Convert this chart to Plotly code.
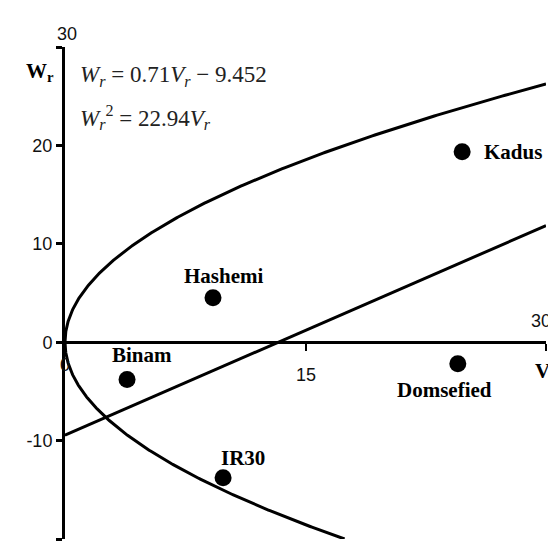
import numpy as np
import plotly.graph_objects as go

# ---- data ----
cultivars = ["Binam", "Hashemi", "IR30", "Domsefied", "Kadus"]
vr_values = [3.87, 9.23, 9.86, 24.5, 24.77]
wr_values = [-3.8, 4.52, -13.77, -2.18, 19.36]

# label anchor positions (data coords)
label_v = [4.80, 9.92, 11.1, 23.64, 27.95]
label_w = [-1.27, 6.76, -11.73, -4.83, 19.36]

# regression coefficients shown on the chart
line_slope = 0.71
line_intercept = -9.452
parabola_coef = 22.94

x_tick_vals = [0, 15, 30]
x_tick_text = ["0", "15", "30"]
y_tick_vals = [-20, -10, 0, 10, 20, 30]
y_tick_text = ["-20", "-10", "0", "10", "20", ""]

X_RANGE = [0, 30]
Y_RANGE = [-20, 30]

# ---- curves from equations ----
v_line = np.linspace(X_RANGE[0], X_RANGE[1], 50)
w_line = line_slope * v_line + line_intercept

w_up = np.linspace(0, np.sqrt(parabola_coef * X_RANGE[1]), 300)
v_up = w_up ** 2 / parabola_coef
w_dn = np.linspace(0, Y_RANGE[0], 300)
v_dn = w_dn ** 2 / parabola_coef

fig = go.Figure()
lw = 3
fig.add_trace(go.Scatter(x=v_up, y=w_up, mode="lines", line=dict(color="black", width=lw), hoverinfo="skip"))
fig.add_trace(go.Scatter(x=v_dn, y=w_dn, mode="lines", line=dict(color="black", width=lw), hoverinfo="skip"))
fig.add_trace(go.Scatter(x=v_line, y=w_line, mode="lines", line=dict(color="black", width=lw), hoverinfo="skip"))
fig.add_trace(go.Scatter(x=vr_values, y=wr_values, mode="markers",
                         marker=dict(color="black", size=17), text=cultivars, cliponaxis=False))

serif = "Liberation Serif"
sans = "Liberation Sans"
ann = []
for name, lv, lw_ in zip(cultivars, label_v, label_w):
    ann.append(dict(x=lv, y=lw_, xref="x", yref="y", text=f"<b>{name}</b>", showarrow=False,
                    font=dict(family=serif, size=21, color="black")))

# x tick labels (placed like the reference)
x_lab_pos = [(0, -2.3), (15, -3.3), (29.7, 2.2)]
for (xv, yv), t in zip(x_lab_pos, x_tick_text):
    ann.append(dict(x=xv, y=yv, xref="x", yref="y", text=t, showarrow=False,
                    font=dict(family=sans, size=18, color="#111")))
# y "30" label above the axis
ann.append(dict(x=-0.021, y=1.051, xref="paper", yref="paper", text="30", showarrow=False,
                font=dict(family=sans, size=18, color="#111")))
# axis titles
ann.append(dict(x=-0.085, y=0.98, xref="paper", yref="paper", text="<b>W<sub>r</sub></b>", showarrow=False,
                font=dict(family=serif, size=21, color="black")))
ann.append(dict(x=0.973, y=0.309, xref="paper", yref="paper", xanchor="left", text="<b>V<sub>r</sub></b>",
                showarrow=False, font=dict(family=serif, size=21, color="black")))
# equations
ann.append(dict(x=0.027, y=0.974, xref="paper", yref="paper", xanchor="left", showarrow=False,
                text="<i>W</i><sub><i>r</i></sub> = 0.71<i>V</i><sub><i>r</i></sub> \u2212 9.452",
                font=dict(family=serif, size=23, color="#222")))
ann.append(dict(x=0.027, y=0.892, xref="paper", yref="paper", xanchor="left", showarrow=False,
                text="<i>W</i><sub><i>r</i></sub><sup>2</sup> = 22.94<i>V</i><sub><i>r</i></sub>",
                font=dict(family=serif, size=23, color="#222")))

fig.update_layout(
    width=548, height=539,
    margin=dict(l=57, r=10, t=39, b=8),
    paper_bgcolor="white", plot_bgcolor="white",
    showlegend=False,
    annotations=ann,
    xaxis=dict(range=X_RANGE, anchor="free", position=(0 - Y_RANGE[0]) / (Y_RANGE[1] - Y_RANGE[0]),
               showline=True, linecolor="black", linewidth=3,
               ticks="outside", ticklen=7, tickwidth=2, tickcolor="black",
               tickvals=x_tick_vals, showticklabels=False,
               showgrid=False, zeroline=False),
    yaxis=dict(range=Y_RANGE, showline=True, linecolor="black", linewidth=3,
               ticks="outside", ticklen=6, tickwidth=3, tickcolor="black",
               tickvals=y_tick_vals, ticktext=y_tick_text,
               tickfont=dict(family=sans, size=18, color="#111"),
               showgrid=False, zeroline=False),
)

fig.write_html("out.html")
